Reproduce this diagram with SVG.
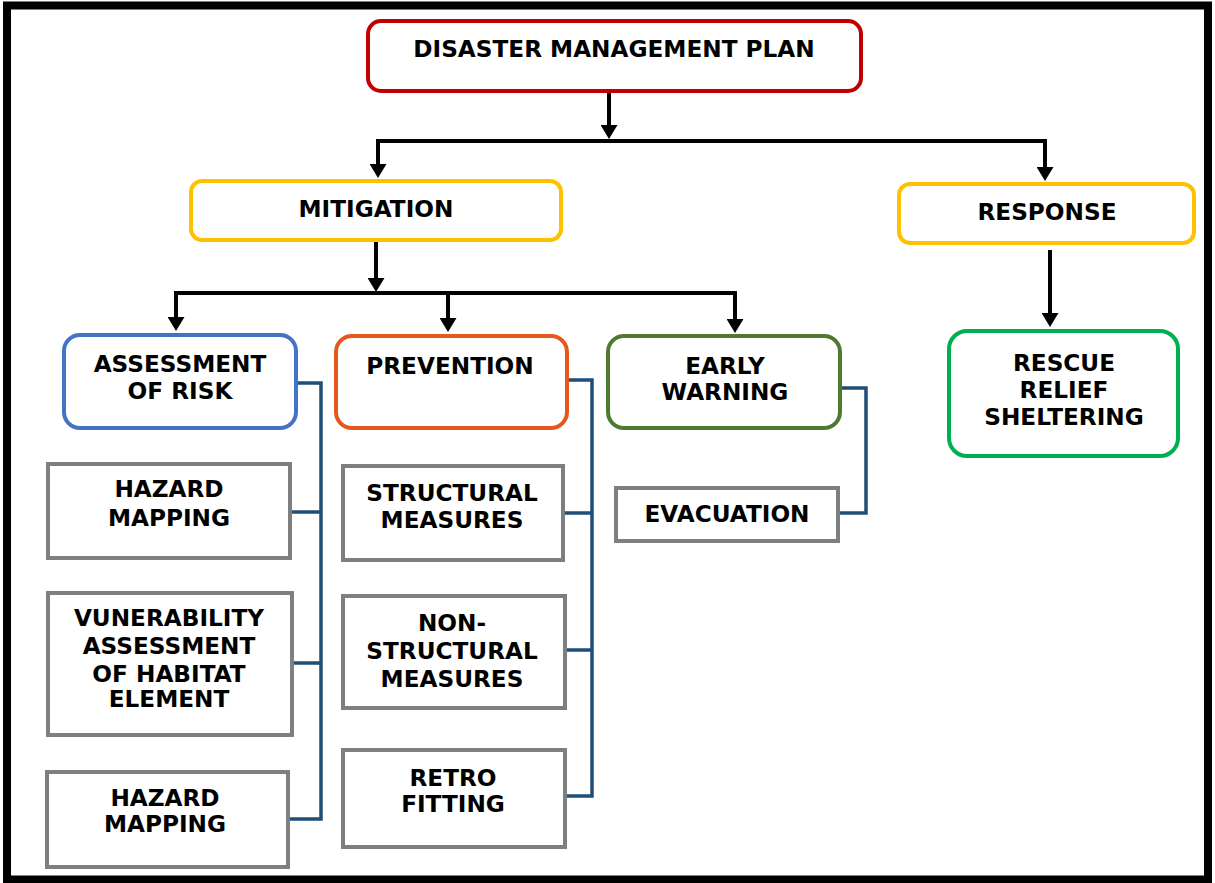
<svg xmlns="http://www.w3.org/2000/svg" width="1215" height="883" viewBox="0 0 1215 883">
<style>
text{font-family:"DejaVu Sans","Verdana",sans-serif;font-weight:bold;font-size:23.2px;fill:#000;text-anchor:middle}
.rb{fill:#fff;stroke-width:4}
.gb{fill:#fff;stroke:#7F7F7F;stroke-width:4}
.arr{stroke:#000;stroke-width:4;fill:none}
.con{stroke:#1F4E79;stroke-width:3.5;fill:none}
</style>
<defs>
<marker id="ah" viewBox="0 0 14 17" refX="7" refY="8.5" markerWidth="14" markerHeight="17" markerUnits="userSpaceOnUse" orient="auto">
<path d="M0,0 L14,8.5 L0,17 z" fill="#000"/>
</marker>
</defs>
<rect x="0" y="0" width="1215" height="883" fill="#fff"/>
<rect x="7" y="5.5" width="1201" height="874" fill="none" stroke="#000" stroke-width="8"/>

<g id="connectors">
<path class="arr" d="M609,92 V132" marker-end="url(#ah)"/>
<path class="arr" d="M378,173 V141 H1045 V175"/>
<path class="arr" d="M378,141 V171" marker-end="url(#ah)"/>
<path class="arr" d="M1045,141 V174" marker-end="url(#ah)"/>
<path class="arr" d="M376,241 V285" marker-end="url(#ah)"/>
<path class="arr" d="M176,326 V293 H735 V328"/>
<path class="arr" d="M176,293 V324" marker-end="url(#ah)"/>
<path class="arr" d="M448,293 V325" marker-end="url(#ah)"/>
<path class="arr" d="M735,293 V326" marker-end="url(#ah)"/>
<path class="arr" d="M1050,250 V320" marker-end="url(#ah)"/>
<path class="con" d="M297,383 H321 V819 H290 M291,512 H321 M292,663 H321"/>
<path class="con" d="M568,380 H592 V796 H565 M563,513 H592 M565,650 H592"/>
<path class="con" d="M841,388 H866 V513 H838"/>
</g>

<g id="dmp">
<rect class="rb" x="368" y="21" width="493" height="70" rx="13" stroke="#C00000"/>
<text x="614" y="57">DISASTER MANAGEMENT PLAN</text>
</g>
<g id="mitigation">
<rect class="rb" x="191" y="181" width="370" height="59" rx="11" stroke="#FFC000"/>
<text x="376" y="217">MITIGATION</text>
</g>
<g id="response">
<rect class="rb" x="899" y="184" width="295" height="59" rx="11" stroke="#FFC000"/>
<text x="1047" y="220">RESPONSE</text>
</g>
<g id="rescue">
<rect class="rb" x="949" y="331" width="229" height="125" rx="18" stroke="#00B050"/>
<text x="1064" y="371">RESCUE</text>
<text x="1064" y="398">RELIEF</text>
<text x="1064" y="425">SHELTERING</text>
</g>
<g id="assessment">
<rect class="rb" x="64" y="335" width="232" height="93" rx="16" stroke="#4472C4"/>
<text x="180" y="372">ASSESSMENT</text>
<text x="180" y="399">OF RISK</text>
</g>
<g id="prevention">
<rect class="rb" x="336" y="336" width="231" height="92" rx="16" stroke="#E8561E"/>
<text x="450" y="374">PREVENTION</text>
</g>
<g id="earlywarning">
<rect class="rb" x="608" y="336" width="232" height="92" rx="16" stroke="#4E7A2F"/>
<text x="725" y="374">EARLY</text>
<text x="725" y="400">WARNING</text>
</g>
<g id="hazard1">
<rect class="gb" x="48" y="464" width="242" height="94"/>
<text x="169" y="497">HAZARD</text>
<text x="169" y="526">MAPPING</text>
</g>
<g id="vulnerability">
<rect class="gb" x="48" y="593" width="244" height="142"/>
<text x="169" y="626">VUNERABILITY</text>
<text x="169" y="654">ASSESSMENT</text>
<text x="169" y="682">OF HABITAT</text>
<text x="169" y="707">ELEMENT</text>
</g>
<g id="hazard2">
<rect class="gb" x="47" y="772" width="241" height="95"/>
<text x="165" y="806">HAZARD</text>
<text x="165" y="832">MAPPING</text>
</g>
<g id="structural">
<rect class="gb" x="343" y="466" width="220" height="94"/>
<text x="452" y="501">STRUCTURAL</text>
<text x="452" y="528">MEASURES</text>
</g>
<g id="nonstructural">
<rect class="gb" x="343" y="596" width="222" height="112"/>
<text x="452" y="631">NON-</text>
<text x="452" y="659">STRUCTURAL</text>
<text x="452" y="687">MEASURES</text>
</g>
<g id="retro">
<rect class="gb" x="343" y="750" width="222" height="97"/>
<text x="453" y="786">RETRO</text>
<text x="453" y="812">FITTING</text>
</g>
<g id="evacuation">
<rect class="gb" x="616" y="488" width="222" height="53"/>
<text x="727" y="522">EVACUATION</text>
</g>
</svg>
